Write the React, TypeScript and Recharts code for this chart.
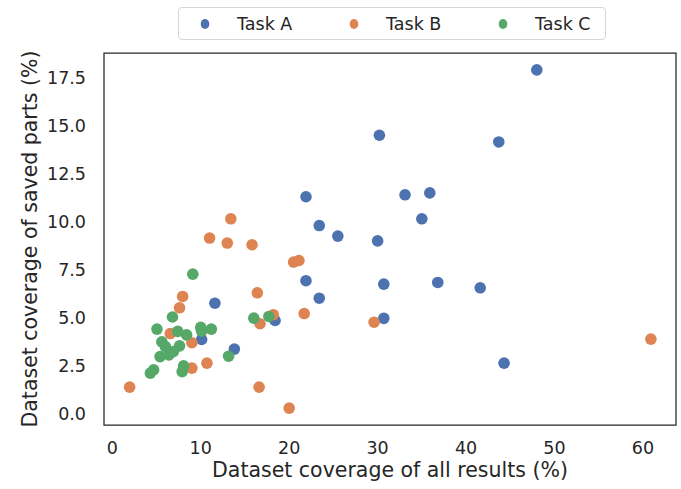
import {
  ScatterChart,
  Scatter,
  XAxis,
  YAxis,
  ZAxis,
  ReferenceArea,
  Legend,
} from 'recharts'

// Task A (blue)
const taskAX = [48.0, 30.2, 43.7, 21.9, 33.1, 35.9, 35.0, 23.4, 25.5, 30.0, 21.9, 30.7, 36.8, 41.6, 23.4, 30.7, 18.4, 44.3, 11.6, 10.1, 13.8]
const taskAY = [17.9, 14.5, 14.15, 11.3, 11.4, 11.5, 10.15, 9.8, 9.25, 9.0, 6.93, 6.75, 6.84, 6.56, 6.02, 4.97, 4.86, 2.64, 5.76, 3.87, 3.37]

// Task B (orange)
const taskBX = [15.8, 20.5, 21.1, 16.4, 21.7, 29.6, 18.2, 16.7, 60.9, 16.6, 20.0, 13.4, 11.0, 13.0, 7.95, 7.6, 6.55, 9.0, 10.7, 9.0, 1.96]
const taskBY = [8.8, 7.9, 7.98, 6.3, 5.22, 4.77, 5.16, 4.69, 3.89, 1.39, 0.3, 10.15, 9.15, 8.89, 6.11, 5.52, 4.18, 3.7, 2.64, 2.38, 1.39]

// Task C (green)
const taskCX = [9.1, 16.0, 17.7, 6.8, 5.05, 7.4, 8.4, 10.0, 10.1, 11.2, 5.6, 6.0, 6.9, 7.6, 5.4, 6.4, 13.15, 8.06, 7.9, 4.67, 4.3]
const taskCY = [7.27, 4.98, 5.07, 5.04, 4.41, 4.29, 4.11, 4.5, 4.3, 4.41, 3.75, 3.5, 3.24, 3.54, 2.98, 3.07, 3.0, 2.5, 2.2, 2.29, 2.12]

const seriesNames = ['Task A', 'Task B', 'Task C']
const colors = ['#4C72B0', '#DD8452', '#55A868']

const xTicks = [0, 10, 20, 30, 40, 50, 60]
const yTicks = [0, 2.5, 5, 7.5, 10, 12.5, 15, 17.5]
const xDomain: [number, number] = [-0.94, 63.74]
const yDomain: [number, number] = [-0.58, 18.78]

const toPoints = (xs: number[], ys: number[]) => xs.map((x, i) => ({ x, y: ys[i] }))

const series = [
  toPoints(taskAX, taskAY),
  toPoints(taskBX, taskBY),
  toPoints(taskCX, taskCY),
]

const FONT = '"DejaVu Sans", sans-serif'
const INK = '#262626'

const Dot = (props: any) => {
  const { cx, cy, fill } = props
  if (cx == null || cy == null) return null
  return <circle cx={cx} cy={cy} r={5.8} fill={fill} />
}

const LegendBox = () => (
  <div
    style={{
      width: 428,
      height: 33,
      boxSizing: 'border-box',
      border: '1px solid #d6d6d6',
      borderRadius: 4,
      background: '#fff',
      position: 'relative',
      fontFamily: FONT,
      fontSize: 17.5,
      color: INK,
    }}
  >
    {seriesNames.map((name, i) => (
      <div
        key={name}
        style={{ position: 'absolute', left: 20 + i * 149, top: 0, height: 31, display: 'flex', alignItems: 'center' }}
      >
        <svg width={12} height={12} style={{ marginRight: 26 }}>
          <ellipse cx={6} cy={6} rx={4.3} ry={5} fill={colors[i]} />
        </svg>
        <span>{name}</span>
      </div>
    ))}
  </div>
)

const XLabel = (props: any) => {
  const { viewBox } = props
  return (
    <text
      x={viewBox.x + viewBox.width / 2}
      y={viewBox.y + 52}
      textAnchor="middle"
      fontFamily={FONT}
      fontSize={20.5}
      fill={INK}
    >
      Dataset coverage of all results (%)
    </text>
  )
}

const YLabel = (props: any) => {
  const { viewBox } = props
  const x = viewBox.x + 37
  const y = viewBox.y + viewBox.height / 2
  return (
    <text
      x={x}
      y={y}
      transform={`rotate(-90, ${x}, ${y})`}
      textAnchor="middle"
      fontFamily={FONT}
      fontSize={20.5}
      fill={INK}
    >
      Dataset coverage of saved parts (%)
    </text>
  )
}

export default function App() {
  return (
    <div style={{ position: 'absolute', left: 0, top: 0, background: '#fff' }}>
      <ScatterChart width={681} height={489} margin={{ top: 53, right: 5, bottom: 0, left: 0 }}>
        <XAxis
          type="number"
          dataKey="x"
          domain={xDomain}
          ticks={xTicks}
          allowDataOverflow
          height={64}
          axisLine={false}
          tickLine={false}
          tickMargin={11}
          tick={{ fontFamily: FONT, fontSize: 17.5, fill: INK }}
          label={<XLabel />}
        />
        <YAxis
          type="number"
          dataKey="y"
          domain={yDomain}
          ticks={yTicks}
          allowDataOverflow
          width={104}
          axisLine={false}
          tickLine={false}
          tickMargin={12}
          tickFormatter={(v: number) => v.toFixed(1)}
          tick={{ fontFamily: FONT, fontSize: 17.5, fill: INK }}
          label={<YLabel />}
        />
        <ZAxis range={[100, 100]} />
        <ReferenceArea
          x1={xDomain[0]}
          x2={xDomain[1]}
          y1={yDomain[0]}
          y2={yDomain[1]}
          fill="none"
          stroke={INK}
          strokeWidth={1.25}
          ifOverflow="visible"
        />
        {series.map((data, i) => (
          <Scatter
            key={seriesNames[i]}
            name={seriesNames[i]}
            data={data}
            fill={colors[i]}
            shape={<Dot />}
            isAnimationActive={false}
          />
        ))}
        <Legend
          layout="horizontal"
          verticalAlign="middle"
          align="center"
          wrapperStyle={{ top: 7, left: 178, width: 428 }}
          content={<LegendBox />}
        />
      </ScatterChart>
    </div>
  )
}
